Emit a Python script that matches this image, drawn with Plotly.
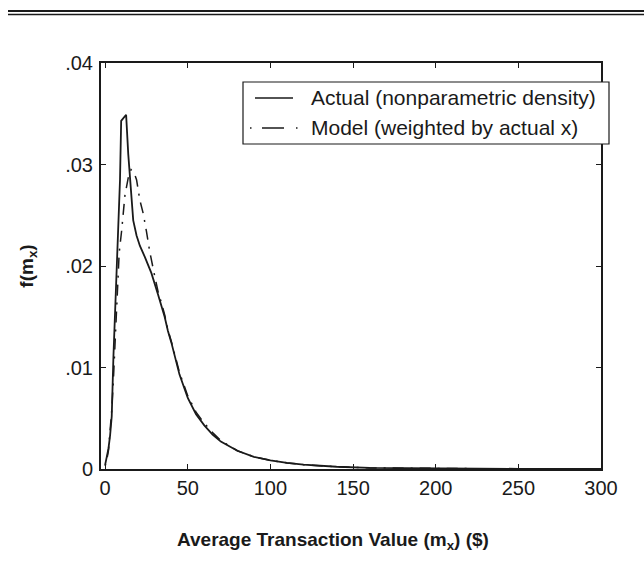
import plotly.graph_objects as go

# Average transaction value grid ($)
x_actual = [0, 1, 2, 3, 4, 5, 6, 7, 8, 9, 9.7, 12.7, 14, 15.5, 17, 19, 21, 24, 28, 32, 36,
            38, 40, 45, 50, 55, 60, 65, 70, 80, 90, 100, 110, 120, 140, 160, 180, 200,
            225, 250, 275, 300]
# Nonparametric density estimate
y_actual = [0.0004, 0.0011, 0.0020, 0.0033, 0.0052, 0.0110, 0.0150, 0.0190, 0.0230, 0.0285,
            0.0343, 0.0349, 0.0310, 0.0272, 0.0245, 0.0230, 0.0220, 0.0209, 0.0193, 0.0172,
            0.0150, 0.0136, 0.0125, 0.0093, 0.0070, 0.0054, 0.0043, 0.0034, 0.0027, 0.0018,
            0.0012, 0.00085, 0.0006, 0.00043, 0.00022, 0.00011, 0.00007, 0.00004, 0.00003,
            0.00002, 0.00001, 0.00001]

x_model = [0, 1, 2, 3, 4, 5, 6, 7, 8.5, 10, 11, 12, 14, 15.7, 17.5, 19, 21, 23, 25, 27,
           30, 32, 34, 36, 38, 40, 45, 50, 55, 60, 65, 70, 80, 90, 100, 110, 120, 140, 160,
           180, 200, 225, 250, 275, 300]
# Model density weighted by actual x
y_model = [0.0003, 0.0009, 0.0018, 0.0035, 0.0058, 0.0088, 0.0120, 0.0157, 0.0213, 0.0235,
           0.0255, 0.0270, 0.0287, 0.0295, 0.0292, 0.0285, 0.0265, 0.0252, 0.0234, 0.0214,
           0.0190, 0.0175, 0.0164, 0.0152, 0.0137, 0.0126, 0.0095, 0.0072, 0.0056, 0.0045,
           0.0036, 0.0028, 0.0018, 0.0012, 0.00085, 0.0006, 0.00043, 0.00022, 0.00011,
           0.00007, 0.00004, 0.00003, 0.00002, 0.00001, 0.00001]

x_ticks = [0, 50, 100, 150, 200, 250, 300]
y_ticks = [0, 0.01, 0.02, 0.03, 0.04]
y_ticktext = ["0", ".01", ".02", ".03", ".04"]

series_names = ["Actual (nonparametric density)", "Model (weighted by actual x)"]

FONT = "Liberation Sans, Arial, Helvetica, sans-serif"
INK = "#1a1a1a"

W, H = 644, 567
L, R, T, B = 101, 43, 63, 98
PW, PH = W - L - R, H - T - B


def px(xp):
    """Pixel column -> paper x."""
    return (xp - L) / PW


def py(yp):
    """Pixel row -> paper y."""
    return (H - B - yp) / PH


fig = go.Figure()
fig.add_trace(go.Scatter(
    x=x_actual, y=y_actual, mode="lines", name=series_names[0],
    line=dict(color=INK, width=1.8), showlegend=False,
))
fig.add_trace(go.Scatter(
    x=x_model, y=y_model, mode="lines", name=series_names[1],
    line=dict(color=INK, width=1.5, dash="2px,7px,11px,7px"), showlegend=False,
))

axis_common = dict(
    showline=True, linecolor=INK, linewidth=2, mirror="ticks",
    ticks="inside", ticklen=5, tickwidth=1, tickcolor=INK,
    showgrid=False, zeroline=False,
    tickfont=dict(family=FONT, size=20, color=INK),
)

fig.update_xaxes(range=[-2.5, 300], tickvals=x_ticks, **axis_common)
fig.update_yaxes(
    range=[0, 0.04], tickvals=y_ticks, ticktext=y_ticktext, ticklabelstandoff=2,
    title=dict(text="<b>f(m<sub>x</sub>)</b>",
               font=dict(family=FONT, size=19, color=INK), standoff=27),
    **axis_common,
)

annotations = [
    dict(text="<b>Average Transaction Value (m<sub>x</sub>) ($)</b>",
         x=px(333), y=py(541), xref="paper", yref="paper",
         xanchor="center", yanchor="middle", showarrow=False,
         font=dict(family=FONT, size=19, color=INK)),
]

shapes = [
    # double rule across the top of the page
    dict(type="line", xref="paper", yref="paper", x0=px(8), x1=px(650),
         y0=py(11), y1=py(11), line=dict(color=INK, width=2)),
    dict(type="line", xref="paper", yref="paper", x0=px(8), x1=px(650),
         y0=py(14.5), y1=py(14.5), line=dict(color=INK, width=1.5)),
    # legend frame
    dict(type="rect", xref="paper", yref="paper", x0=px(243), x1=px(609),
         y0=py(82), y1=py(144), line=dict(color=INK, width=1.2), fillcolor="white",
         layer="above"),
    # legend key: solid
    dict(type="line", xref="paper", yref="paper", x0=px(255), x1=px(293),
         y0=py(98), y1=py(98), line=dict(color=INK, width=1.5), layer="above"),
    # legend key: dot - dash - dot
    dict(type="line", xref="paper", yref="paper", x0=px(250), x1=px(251.5),
         y0=py(128), y1=py(128), line=dict(color=INK, width=1.5), layer="above"),
    dict(type="line", xref="paper", yref="paper", x0=px(262), x1=px(284),
         y0=py(128), y1=py(128), line=dict(color=INK, width=1.5), layer="above"),
    dict(type="line", xref="paper", yref="paper", x0=px(296), x1=px(297.5),
         y0=py(128), y1=py(128), line=dict(color=INK, width=1.5), layer="above"),
]

for name, row in zip(series_names, [98, 128]):
    annotations.append(dict(
        text=name, x=px(309), y=py(row), xref="paper", yref="paper",
        xanchor="left", yanchor="middle", showarrow=False,
        font=dict(family=FONT, size=21, color=INK)))

fig.update_layout(
    width=W, height=H,
    margin=dict(l=L, r=R, t=T, b=B),
    paper_bgcolor="white", plot_bgcolor="white",
    showlegend=False,
    shapes=shapes, annotations=annotations,
)

fig.write_html("out.html")
